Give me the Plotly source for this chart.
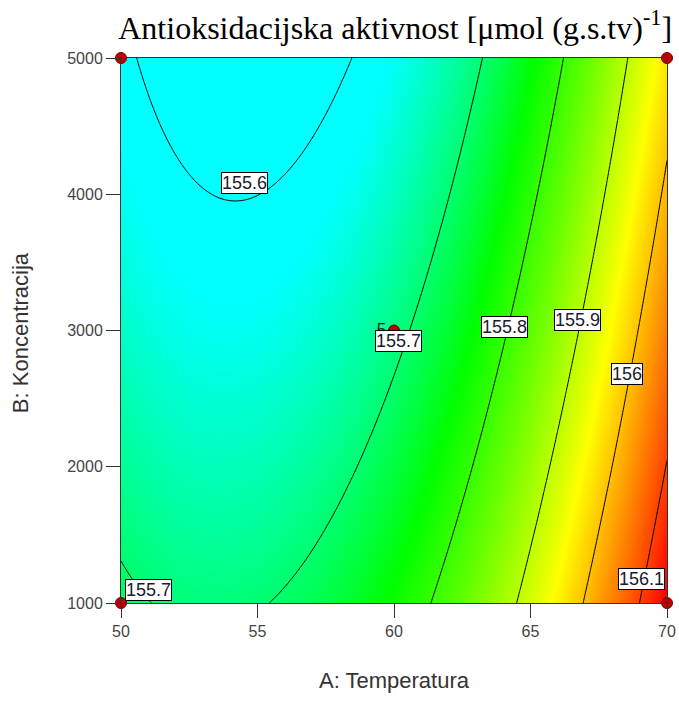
import numpy as np
import plotly.graph_objects as go

# ---- data ----
# response-surface model (coded units: a=(A-60)/10, b=(B-3000)/2000)
coef_terms = ["const", "a", "b", "ab", "a2", "b2"]
coef_values = [155.688, 0.2015, -0.0715, -0.0205, 0.165, 0.0075]

temp_range = [50, 70]
conc_range = [1000, 5000]
x_ticks = [50, 55, 60, 65, 70]
y_ticks = [1000, 2000, 3000, 4000, 5000]

design_A = [50, 50, 70, 70, 60]
design_B = [1000, 5000, 1000, 5000, 3000]
design_text = ["", "", "", "", "5"]

level_start, level_end, level_step = 155.6, 156.1, 0.1

label_text = ["155.6", "155.7", "155.8", "155.9", "156", "156.1", "155.7"]
label_A = [54.52, 60.18, 64.05, 66.73, 68.53, 69.08, 51.0]
label_B = [4080, 2923, 3028, 3077, 2679, 1175, 1099]

# colour stops (response value -> colour)
color_values = [155.62, 155.76, 155.95, 156.15]
color_names = ["rgb(0,255,255)", "rgb(0,255,0)", "rgb(255,255,0)", "rgb(255,0,0)"]

title_text = "Antioksidacijska aktivnost [μmol (g.s.tv)<sup>-1</sup>]"
x_title = "A: Temperatura"
y_title = "B: Koncentracija"

# ---- surface grid ----
A = np.linspace(temp_range[0], temp_range[1], 201)
B = np.linspace(conc_range[0], conc_range[1], 201)
AA, BB = np.meshgrid(A, B)
a = (AA - 60) / 10
b = (BB - 3000) / 2000
c = dict(zip(coef_terms, coef_values))
Z = (c["const"] + c["a"] * a + c["b"] * b + c["ab"] * a * b
     + c["a2"] * a ** 2 + c["b2"] * b ** 2)

zmin, zmax = color_values[0], color_values[-1]
colorscale = [[(v - zmin) / (zmax - zmin), col] for v, col in zip(color_values, color_names)]

fig = go.Figure()
fig.add_trace(go.Contour(
    x=A, y=B, z=Z,
    colorscale=colorscale, zmin=zmin, zmax=zmax,
    contours=dict(start=level_start, end=level_end, size=level_step,
                  coloring="heatmap", showlabels=False),
    line=dict(color="black", width=1),
    showscale=False, hoverinfo="skip",
))
fig.add_trace(go.Scatter(
    x=design_A, y=design_B, mode="markers+text",
    text=design_text, textposition="middle left",
    textfont=dict(family="Liberation Sans", size=17, color="#202020"),
    marker=dict(size=11, color="#c00000", line=dict(color="#700000", width=1)),
    cliponaxis=False, showlegend=False, hoverinfo="skip",
))

annotations = []
for t, xa, yb in zip(label_text, label_A, label_B):
    annotations.append(dict(
        x=xa, y=yb, xref="x", yref="y", text=t, showarrow=False,
        font=dict(family="Liberation Sans", size=18, color="#1a1a30"),
        bgcolor="white", bordercolor="black", borderwidth=1, borderpad=0,
    ))
annotations.append(dict(
    x=0.5, y=-0.1413, xref="paper", yref="paper", text=x_title,
    showarrow=False, xanchor="center", yanchor="middle",
    font=dict(family="Liberation Sans", size=22, color="#333333"),
))
annotations.append(dict(
    x=-0.185, y=0.497, xref="paper", yref="paper", text=y_title,
    showarrow=False, xanchor="center", yanchor="middle", textangle=-90,
    font=dict(family="Liberation Sans", size=22, color="#333333"),
))

axis_common = dict(
    showgrid=False, zeroline=False, showline=True, linecolor="#333333",
    linewidth=1, mirror=True, ticks="outside", ticklen=14, tickcolor="#333333",
    tickfont=dict(family="Liberation Sans", size=16, color="#444444"),
    automargin=False,
)
fig.update_layout(
    width=679, height=720, autosize=False,
    margin=dict(l=121, r=12, t=58, b=117),
    paper_bgcolor="white", plot_bgcolor="white",
    title=dict(text=title_text, xref="container", yref="container",
               x=0.99, xanchor="right", y=0.962, yanchor="middle",
               font=dict(family="Liberation Serif", size=32, color="black")),
    xaxis=dict(range=temp_range, tickvals=x_ticks, **axis_common),
    yaxis=dict(range=conc_range, tickvals=y_ticks, **axis_common),
    annotations=annotations,
)
fig.write_html(
    "out.html",
    config={"responsive": False, "displayModeBar": False},
    post_script="document.body.style.margin='0px';document.body.style.padding='0px';"
                "document.body.style.overflow='hidden';",
)
